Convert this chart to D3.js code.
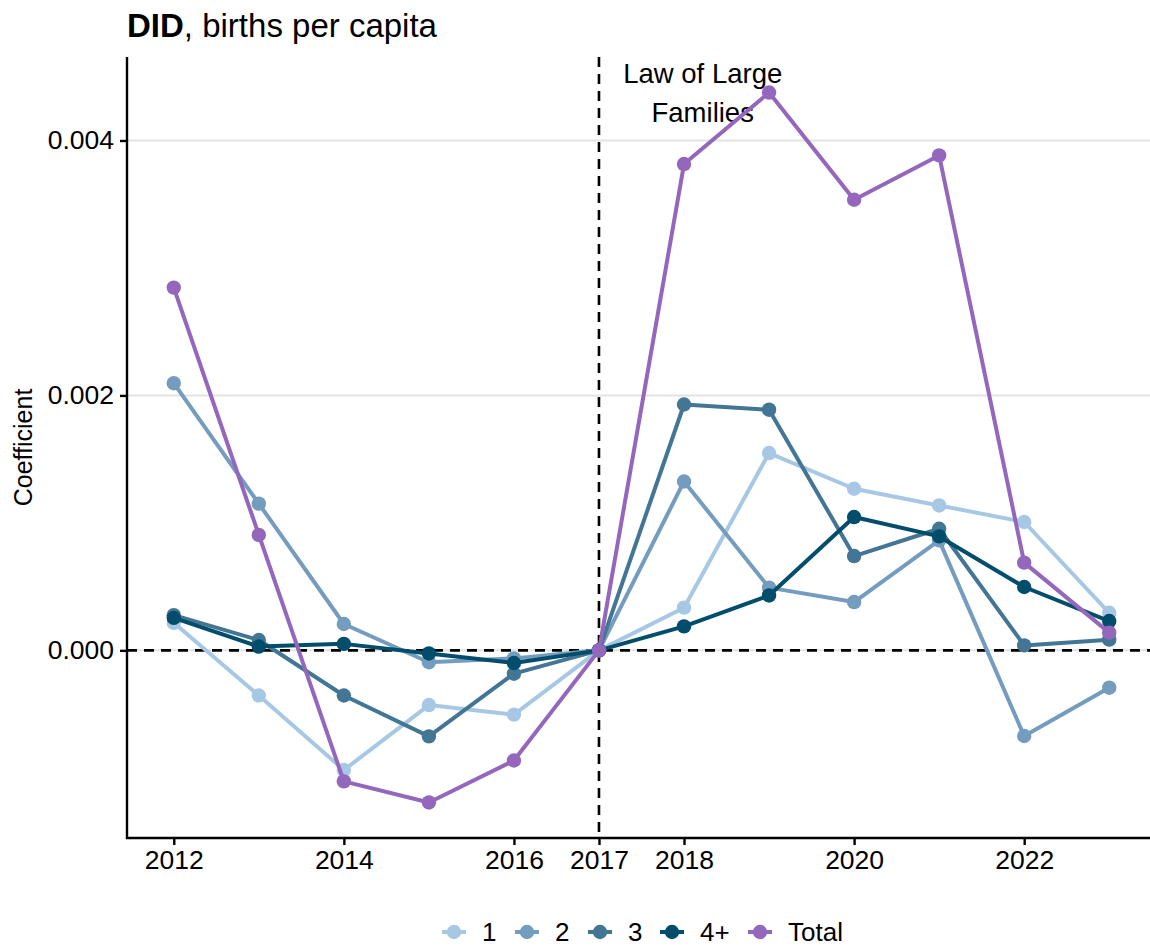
<!DOCTYPE html>
<html><head><meta charset="utf-8">
<script src="https://cdn.jsdelivr.net/npm/d3@7"></script>
<style>body{margin:0;background:#fff;} svg{display:block;font-family:"Liberation Sans",Arial,sans-serif;}</style>
</head><body>
<svg id="chart" width="1150" height="946"></svg>
<script>
const years = [2012,2013,2014,2015,2016,2017,2018,2019,2020,2021,2022,2023];
const series1 = [0.000216,-0.000354,-0.000939,-0.000429,-0.000504,0,0.000335,0.001548,0.001268,0.001137,0.001007,0.000295];
const series2 = [0.002096,0.001151,0.000207,-0.000093,-0.000063,0,0.001325,0.000492,0.000379,0.000863,-0.000672,-0.000293];
const series3 = [0.000276,0.000081,-0.000354,-0.000675,-0.000183,0,0.001929,0.001888,0.000740,0.000954,0.000039,0.000084];
const series4 = [0.000255,0.000030,0.000051,-0.000024,-0.000099,0,0.000188,0.000431,0.001046,0.000894,0.000497,0.000230];
const seriesTotal = [0.002846,0.000906,-0.001028,-0.001193,-0.000864,0,0.003815,0.004376,0.003535,0.003883,0.000688,0.000139];
const seriesNames = ["1","2","3","4+","Total"];
const seriesColors = ["#a6c8e5","#739cbf","#437595","#014d6b","#9467bd"];
const xTicks = [2012,2014,2016,2017,2018,2020,2022];
const yTicks = [0,0.002,0.004];
const treatYear = 2017;
const annotation = ["Law of Large","Families"];

const allSeries = [series1,series2,series3,series4,seriesTotal];
const svg = d3.select("#chart");
const L=127, R=1156, T=57, B=838;
const x = d3.scaleLinear().domain([2011.45,2023.55]).range([L,R]);
const y = d3.scaleLinear().domain([-0.001472,0.004655]).range([B,T]);

// gridlines
svg.append("g").selectAll("line").data(yTicks).join("line")
  .attr("x1",L).attr("x2",R).attr("y1",d=>y(d)).attr("y2",d=>y(d))
  .attr("stroke","#e3e3e3").attr("stroke-width",2);

// reference lines
svg.append("line").attr("x1",L).attr("x2",R).attr("y1",y(0)).attr("y2",y(0))
  .attr("stroke","#000").attr("stroke-width",2.6).attr("stroke-dasharray","10,7");
svg.append("line").attr("x1",x(treatYear)).attr("x2",x(treatYear)).attr("y1",T).attr("y2",B)
  .attr("stroke","#000").attr("stroke-width",2.6).attr("stroke-dasharray","10,7");

// annotation
const ann = svg.append("text").attr("x",x(2018.22)).attr("y",83).attr("text-anchor","middle")
  .attr("font-size",27.5).attr("fill","#000");
ann.selectAll("tspan").data(annotation).join("tspan")
  .attr("x",x(2018.22)).attr("dy",(d,i)=>i===0?0:39).text(d=>d);

// lines & points
const line = d3.line().x((d,i)=>x(years[i])).y(d=>y(d));
allSeries.forEach((s,k)=>{
  const g = svg.append("g");
  g.append("path").datum(s).attr("d",line).attr("fill","none")
    .attr("stroke",seriesColors[k]).attr("stroke-width",4).attr("stroke-linejoin","round");
  g.selectAll("circle").data(s).join("circle")
    .attr("cx",(d,i)=>x(years[i])).attr("cy",d=>y(d)).attr("r",7.2).attr("fill",seriesColors[k]);
});

// axes
const xAxis = svg.append("g").attr("transform",`translate(0,${B})`)
  .call(d3.axisBottom(x).tickValues(xTicks).tickFormat(d3.format("d")).tickSize(7).tickSizeOuter(0).tickPadding(5));
const yAxis = svg.append("g").attr("transform",`translate(${L},0)`)
  .call(d3.axisLeft(y).tickValues(yTicks).tickFormat(d3.format(".3f")).tickSize(7).tickSizeOuter(0).tickPadding(6));
[xAxis,yAxis].forEach(a=>{
  a.select(".domain").attr("stroke","#000").attr("stroke-width",2.4);
  a.selectAll(".tick line").attr("stroke","#000").attr("stroke-width",2.4);
  a.selectAll(".tick text").attr("font-size",26.5).attr("fill","#000").attr("font-family","Liberation Sans, Arial, sans-serif");
});
xAxis.select(".domain").attr("d",`M${L-1},0H${1150}`);
yAxis.select(".domain").attr("d",`M0,${T}V${B+1}`);

// y title
svg.append("text").attr("transform",`translate(32,${(T+B)/2}) rotate(-90)`)
  .attr("text-anchor","middle").attr("font-size",25).attr("fill","#000").text("Coefficient");

// title
const title = svg.append("text").attr("x",127).attr("y",37).attr("font-size",33).attr("fill","#000");
title.append("tspan").attr("font-weight","bold").text("DID");
title.append("tspan").text(", births per capita");

// legend
const legX = [454,527,600,672,760];
const lg = svg.append("g");
seriesNames.forEach((n,k)=>{
  const cx = legX[k], cy = 932;
  lg.append("line").attr("x1",cx-12).attr("x2",cx+12).attr("y1",cy).attr("y2",cy)
    .attr("stroke",seriesColors[k]).attr("stroke-width",4);
  lg.append("circle").attr("cx",cx).attr("cy",cy).attr("r",7.2).attr("fill",seriesColors[k]);
  lg.append("text").attr("x",cx+28).attr("y",cy+9).attr("font-size",26).attr("fill","#000").text(n);
});
</script>
</body></html>
